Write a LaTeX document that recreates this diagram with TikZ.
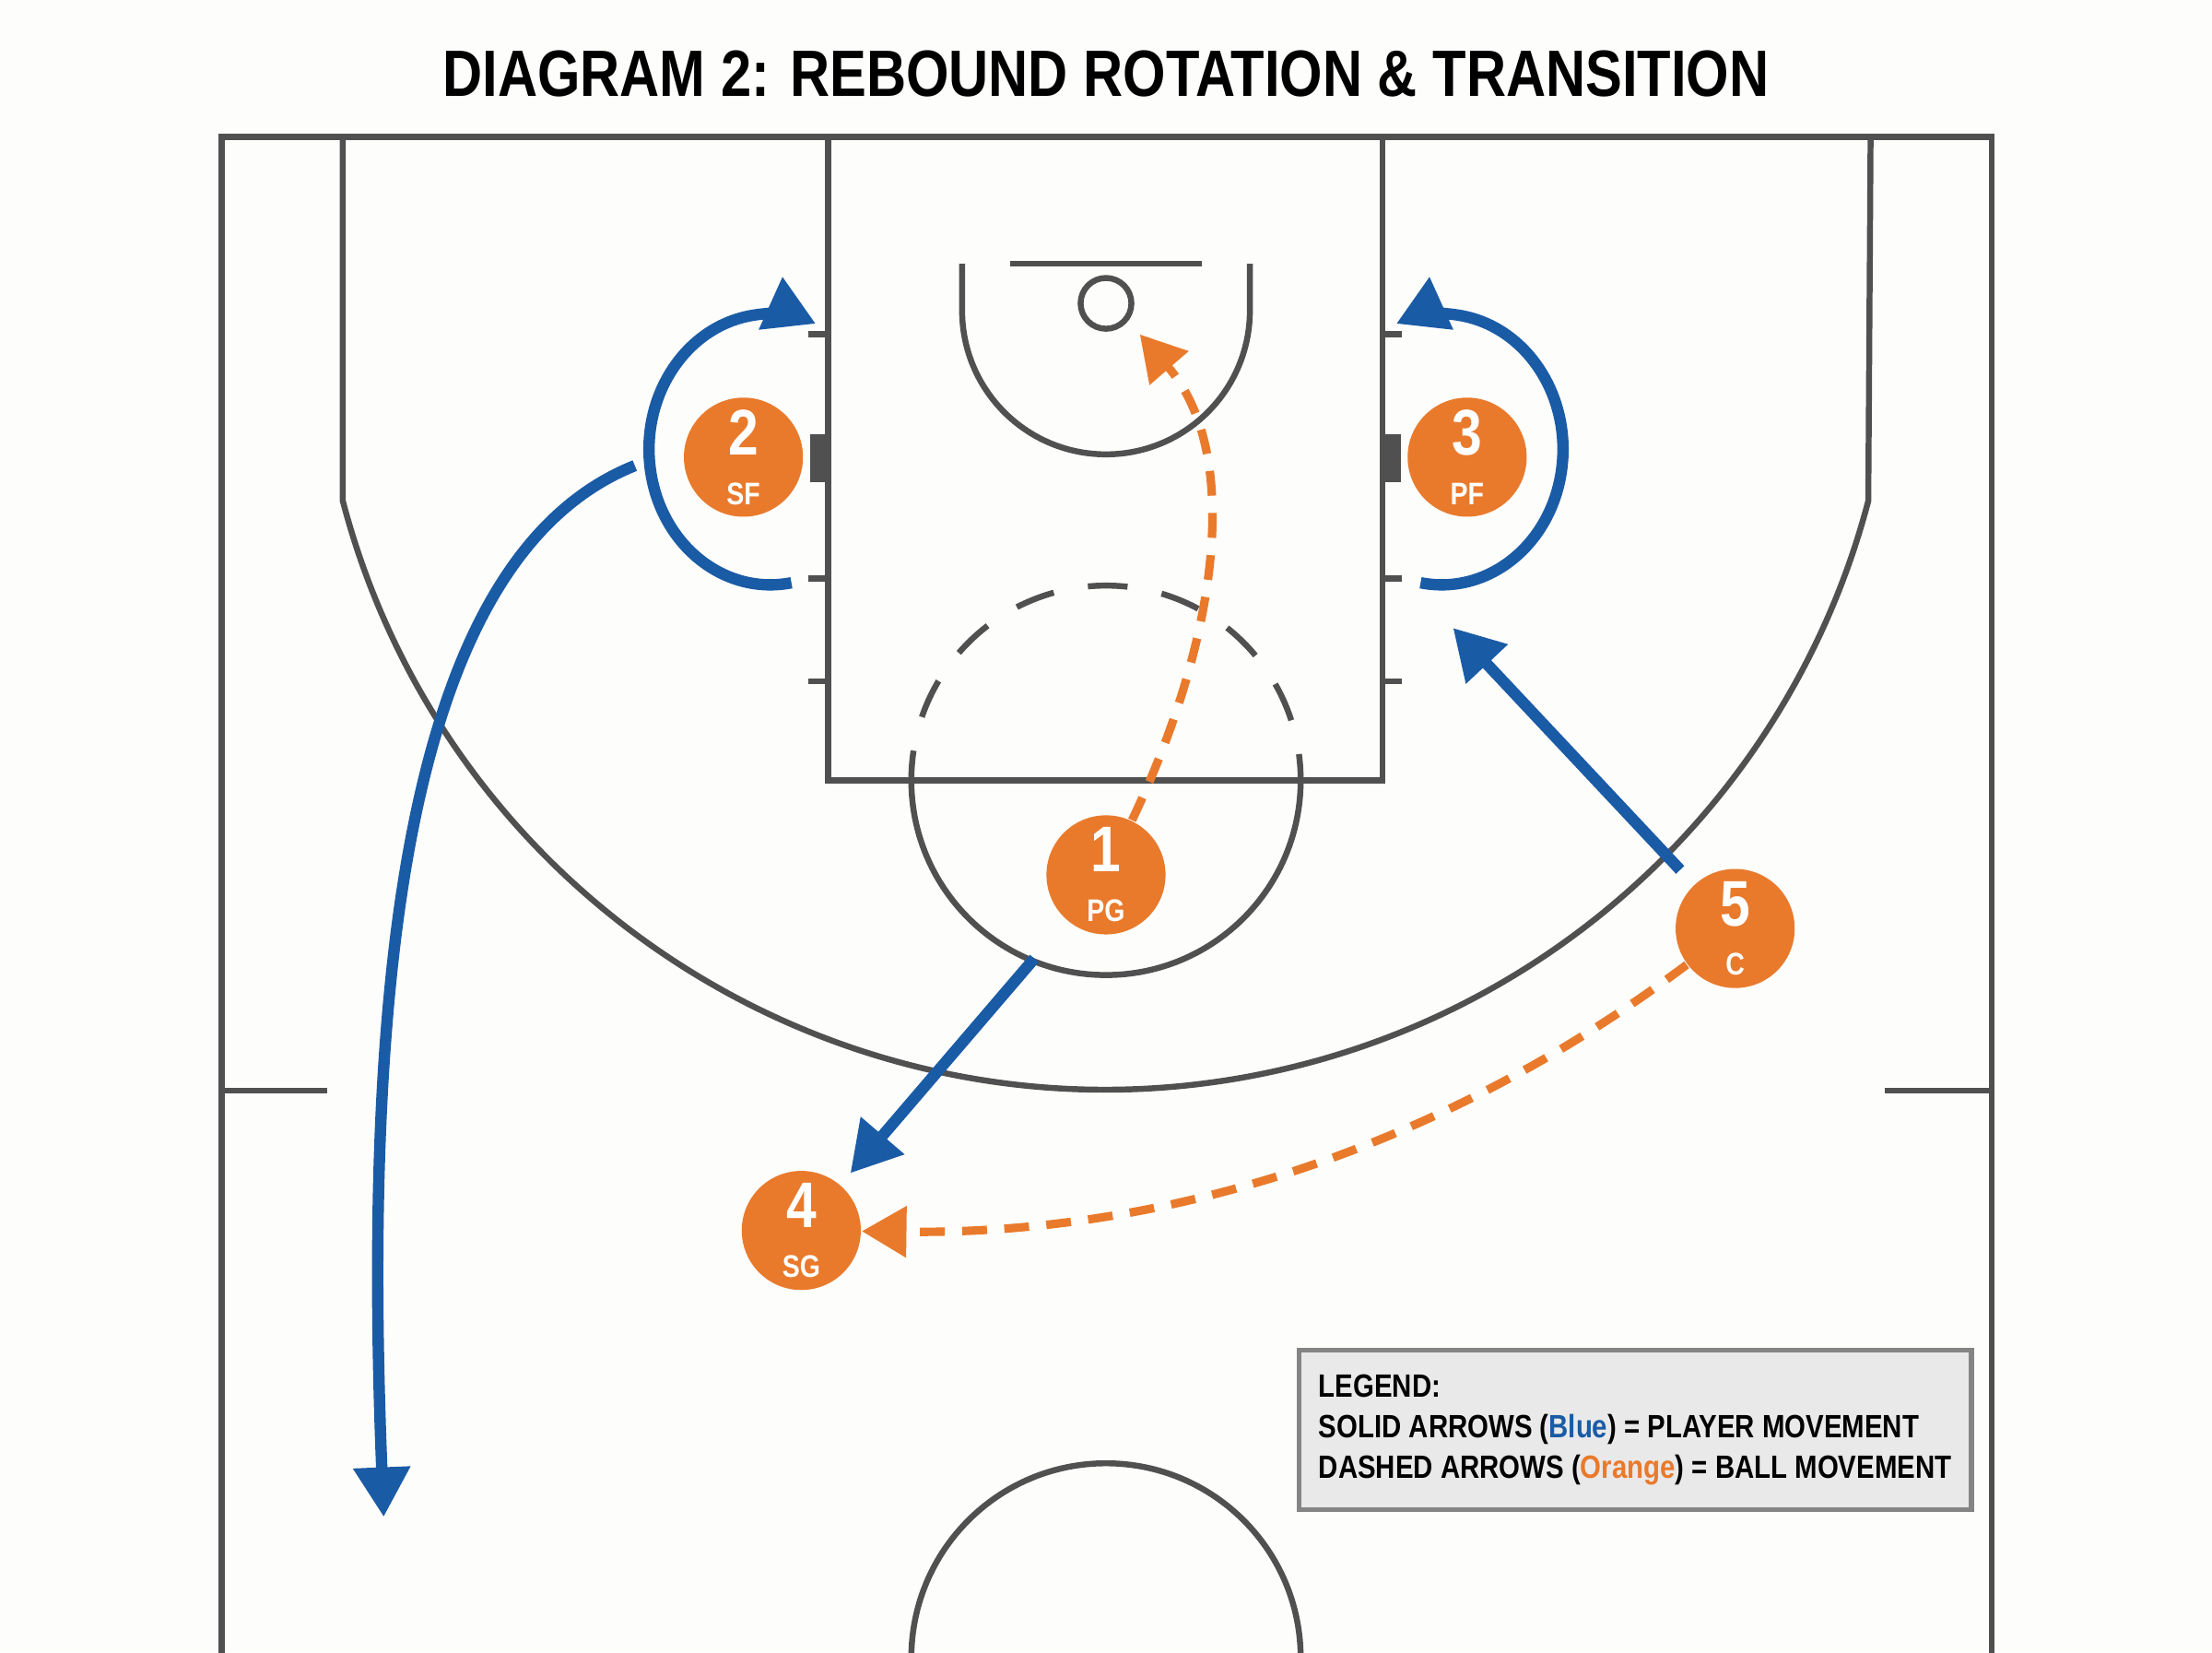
\documentclass[tikz,border=0pt]{standalone}
\usepackage{fontspec}
\setmainfont{Liberation Sans}[FakeStretch=0.84]
\usetikzlibrary{arrows.meta}
\definecolor{court}{HTML}{505050}
\definecolor{pblue}{HTML}{1A5BA6}
\definecolor{porange}{HTML}{E97A2C}
\definecolor{legfill}{HTML}{E9E9E9}
\definecolor{bg}{HTML}{FDFDFB}
\tikzset{
  line/.style={draw=court, line width=1.2pt},
  player/.style={circle, fill=porange, minimum size=24pt, inner sep=0pt, text=white, align=center},
  move/.style={draw=pblue, line width=2.3pt, -{Triangle[length=10pt,width=11pt]}},
  ball/.style={draw=porange, line width=1.7pt, dash pattern=on 5pt off 3.5pt, -{Triangle[length=9pt,width=10pt]}}
}
\newcommand{\plabel}[2]{\fontsize{13}{13}\selectfont #1\\[-2pt]\fontsize{6.3}{6.3}\selectfont #2}
\begin{document}
\begin{tikzpicture}[x=0.01cm, y=-0.01cm, font=\bfseries]
      \fill[bg] (0,0) rectangle (1568,1171);
      \useasboundingbox (0,0) rectangle (1568,1171);

      % title
      \node (title) at (784,52) {\fontsize{13.2}{16}\selectfont DIAGRAM 2: REBOUND ROTATION \& TRANSITION};

      % court
      \begin{scope}
        \clip (0,0) rectangle (1568,1171);
        \draw[line] (157,1180) -- (157,97) -- (1412,97) -- (1412,1180);
        \draw[line] (243,97) -- (243,355) arc (165.3:14.7:559) -- (1326,97);
        \draw[line] (587,97) rectangle (980,553);
        \draw[line] (716,187) -- (852,187);
        \draw[line] (784,215) circle (18);
        \draw[line] (682,187) -- (682,220) arc (180:0:102) -- (886,187);
        \draw[line] (922,553) arc (0:180:138);
        \draw[line, dash pattern=on 8pt off 7pt, dash phase=2pt] (646,553) arc (180:360:138);
        \draw[line] (646,1175) arc (180:360:138);
        \draw[line] (157,773) -- (232,773);
        \draw[line] (1336,773) -- (1412,773);
      \end{scope}
      % lane marks
      \foreach \y in {237,410,483} {
        \draw[line] (573,\y) -- (587,\y);
        \draw[line] (980,\y) -- (994,\y);
      }
      \fill[court] (574,308) rectangle (587,342);
      \fill[court] (980,308) rectangle (993,342);

      % players
      \node[player] (p1) at (784,620) {\plabel{1}{PG}};
      \node[player] (p2) at (527,324) {\plabel{2}{SF}};
      \node[player] (p3) at (1040,324) {\plabel{3}{PF}};
      \node[player] (p4) at (568,872) {\plabel{4}{SG}};
      \node[player] (p5) at (1230,658) {\plabel{5}{C}};
      \coordinate (c3) at (1030,445);
      \coordinate (rim) at (808,237);
      \coordinate (wing) at (272,1075);

      % player movement
      \draw[move] (561,413) arc [start angle=80, end angle=292, x radius=86, y radius=96];
      \draw[move] (1007,413) arc [start angle=100, end angle=-112, x radius=86, y radius=96];
      \draw[move] (450,330) .. controls (300,390) and (255,650) .. (wing);
      \draw[move, shorten <=10pt, shorten >=3pt] (p1) -- (p4);
      \draw[move, shorten <=4pt] (p5) -- (c3);

      % ball movement
      \draw[ball] (p1) .. controls (865,450) and (880,320) .. (rim);
      \draw[ball] (p5) .. controls (1000,830) and (800,875) .. (p4);

      % legend
      \node[draw=court!70, fill=legfill, line width=1pt, anchor=north west, align=left,
            minimum width=4.67cm, minimum height=1.13cm, inner sep=4pt,
            font=\bfseries\fontsize{6.5}{8.2}\selectfont] (legend) at (919,955)
        {LEGEND:\\SOLID ARROWS (\textcolor{pblue}{Blue}) = PLAYER MOVEMENT\\
         DASHED ARROWS (\textcolor{porange}{Orange}) = BALL MOVEMENT};
\end{tikzpicture}
\end{document}
